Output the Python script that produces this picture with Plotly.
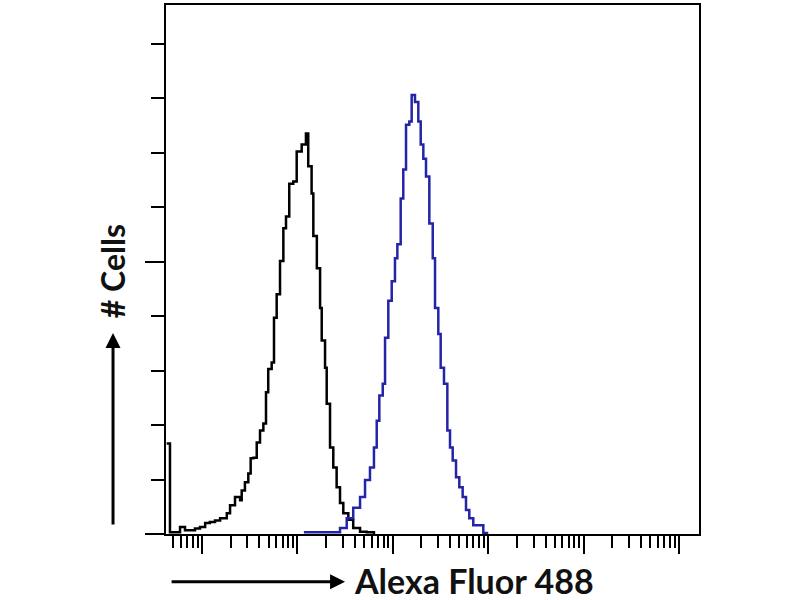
import plotly.graph_objects as go

# Control (black) histogram: fluorescence intensity vs. cell count
black_x = [4.27, 4.62, 5.21, 5.89, 6.64, 8.45, 9.53, 10.8, 12.1, 13.7, 15.5, 18.2, 19.7,
           22.2, 25.1, 26.1, 28.2, 30.6, 32.4, 34.7, 37.5, 40.6, 44.0, 46.9, 49.5, 53.8,
           56.9, 60.7, 65.8, 71.3, 76.0, 82.2, 90.6, 98.4, 111, 123, 130, 141, 147, 160,
           173, 180, 195, 203, 220, 238, 258, 280, 303, 342, 385, 454, 533, 635]
black_y = [16.6, 0.3, 0.3, 1.3, 0.7, 1.0, 1.3, 2.0, 2.2, 2.5, 2.9, 3.8, 5.3,
           6.8, 6.2, 8.0, 9.5, 11.1, 13.9, 14.0, 16.8, 19.0, 20.3, 26.0, 30.3, 31.5,
           39.7, 44.0, 50.1, 56.1, 58.3, 64.3, 64.7, 70.2, 71.5, 73.5, 67.5, 62.5, 54.7, 48.8,
           41.5, 35.5, 30.5, 23.9, 15.9, 12.2, 8.6, 5.7, 3.8, 2.6, 1.1, 0.4, 0.3, 0.0]

# Stained (blue) histogram
blue_x = [117, 238, 280, 329, 385, 454, 512, 577, 635, 679, 723, 785, 830, 898, 975,
          1055, 1117, 1211, 1289, 1377, 1491, 1578, 1710, 1853, 1963, 2091, 2231, 2417,
          2624, 2773, 3002, 3178, 3443, 3733, 3981, 4248, 4603, 4982, 5403, 5857, 6343,
          6982, 7883, 8895, 9727]
blue_y = [0.3, 0.3, 1.1, 2.9, 4.8, 6.8, 9.9, 12.2, 15.9, 20.8, 25.4, 27.6, 36.0, 42.8, 46.4,
          50.6, 53.2, 61.6, 66.9, 75.1, 75.7, 80.6, 79.3, 75.7, 71.5, 68.9, 65.6, 57.0,
          50.6, 41.5, 36.7, 30.5, 27.6, 19.0, 15.9, 13.5, 10.4, 8.6, 6.8, 4.4, 2.9,
          1.6, 1.6, 0.2, 0.0]

x_title = "Alexa Fluor 488"
y_title = "# Cells"

fig = go.Figure()
fig.add_trace(go.Scatter(x=black_x, y=black_y, mode="lines", line_shape="hv",
                         line=dict(color="black", width=2.5), showlegend=False))
fig.add_trace(go.Scatter(x=blue_x, y=blue_y, mode="lines", line_shape="hv",
                         line=dict(color="#2424a8", width=2.5), showlegend=False))

fig.update_xaxes(type="log", range=[0.623, 6.21], dtick=1, showticklabels=False,
                 ticks="outside", ticklen=18, tickwidth=2, tickcolor="black",
                 showline=True, linewidth=2, linecolor="black", mirror=True,
                 showgrid=False, zeroline=False,
                 minor=dict(ticks="outside", ticklen=12, tickwidth=2, tickcolor="black",
                            showgrid=False, dtick="D1"))
fig.update_yaxes(range=[0, 97.1], dtick=50, tick0=0, showticklabels=False,
                 ticks="outside", ticklen=19, tickwidth=2, tickcolor="black",
                 showline=True, linewidth=2, linecolor="black", mirror=True,
                 showgrid=False, zeroline=False,
                 minor=dict(ticks="outside", ticklen=13, tickwidth=2, tickcolor="black",
                            dtick=10, showgrid=False))

fig.add_annotation(xref="paper", yref="paper", x=0.336, y=-0.0904, ax=-175, ay=0,
                   showarrow=True, arrowhead=2, arrowsize=1, arrowwidth=3,
                   arrowcolor="black", text="")
fig.add_annotation(xref="paper", yref="paper", x=-0.0994, y=0.380, ax=0, ay=193,
                   showarrow=True, arrowhead=2, arrowsize=1, arrowwidth=3,
                   arrowcolor="black", text="")
fig.add_annotation(xref="paper", yref="paper", x=0.577, y=-0.0885, showarrow=False,
                   xanchor="center", yanchor="middle",
                   text="<b>" + x_title + "</b>",
                   font=dict(family="Lato", size=34, color="#111"))
fig.add_annotation(xref="paper", yref="paper", x=-0.101, y=0.497, showarrow=False,
                   xanchor="center", yanchor="middle",
                   text="<b>" + y_title + "</b>", textangle=-90,
                   font=dict(family="Lato", size=32, color="#111"))

fig.update_layout(width=800, height=600, paper_bgcolor="white", plot_bgcolor="white",
                  margin=dict(l=166, r=101, t=3, b=66), showlegend=False)

fig.write_html("out.html", config={"displayModeBar": False},
               post_script="document.body.style.margin='0';")
